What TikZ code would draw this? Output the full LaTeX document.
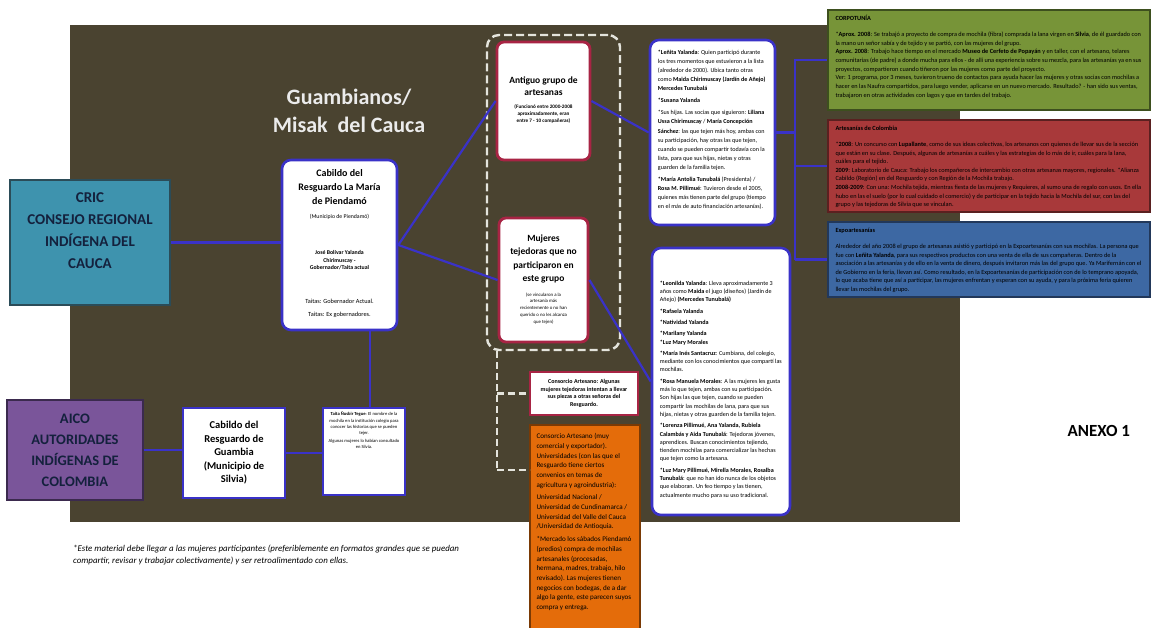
\documentclass[tikz,border=0pt]{standalone}
\usepackage{fontspec}
\setmainfont{Carlito}
\definecolor{bgdark}{HTML}{4A4330}
\definecolor{linkblue}{HTML}{3A32C8}
\definecolor{crimson}{HTML}{A82444}
\definecolor{tealbox}{HTML}{3E93AE}
\definecolor{tealedge}{HTML}{2B4C58}
\definecolor{purplebox}{HTML}{7A559A}
\definecolor{purpleedge}{HTML}{3B2A4E}
\definecolor{navytext}{HTML}{14213D}
\definecolor{greenbox}{HTML}{779438}
\definecolor{greenedge}{HTML}{3D4F1E}
\definecolor{redbox}{HTML}{A8393A}
\definecolor{rededge}{HTML}{5A2020}
\definecolor{bluebox}{HTML}{3D68A3}
\definecolor{blueedge}{HTML}{22385A}
\definecolor{orangebox}{HTML}{E46C0A}
\definecolor{orangeedge}{HTML}{7A3A05}
\definecolor{dashgray}{HTML}{E4E4DC}
% ragged-right block of running text with a fixed width
\newcommand{\paneltext}[2]{\begin{minipage}[t]{#1}\raggedright #2\par\end{minipage}}
\newcommand{\centredtext}[2]{\begin{minipage}[t]{#1}\centering #2\par\end{minipage}}
\tikzset{
  link/.style={draw=linkblue, line width=2.2pt},
  grouplink/.style={draw=dashgray, line width=2.2pt, dash pattern=on 7pt off 4pt},
  bluerounded/.style={draw=linkblue, line width=2.6pt, fill=white, rounded corners=9pt, inner sep=0pt},
  bluesquare/.style={draw=linkblue, line width=2.2pt, fill=white, inner sep=0pt},
  crimsonbox/.style={draw=crimson, line width=2.8pt, fill=white, rounded corners=7pt, inner sep=0pt},
  panel/.style={line width=1.4pt, inner sep=0pt},
  orgtitle/.style={font=\bfseries\fontsize{15}{22}\selectfont, text=navytext, align=center},
  plain/.style={inner sep=0pt, anchor=north west},
  plaintop/.style={inner sep=0pt, anchor=north},
}
\begin{document}
\begin{tikzpicture}[x=1pt,y=-1pt]
\useasboundingbox (0,0) rectangle (1153,628);
\fill[white] (0,0) rectangle (1153,628);
% dark backdrop
\fill[bgdark] (70,25) rectangle (960,522);

% title
\node[font=\bfseries\fontsize{22}{28}\selectfont, text=white!92!black, align=center] (title) at (349,111)
  {Guambianos/\\Misak\ \ del Cauca};

% regional organisations
\node[panel, draw=tealedge, fill=tealbox, minimum width=160pt, minimum height=125pt] (cric) at (90,242.5) {};
\node[orgtitle] (crictxt) at (90,231) {CRIC\\CONSEJO REGIONAL\\INDÍGENA DEL\\CAUCA};
\node[panel, draw=purpleedge, fill=purplebox, minimum width=136pt, minimum height=100pt] (aico) at (75,450) {};
\node[orgtitle, font=\bfseries\fontsize{14.5}{21}\selectfont] (aicotxt) at (75,450)
  {AICO\\AUTORIDADES\\INDÍGENAS DE\\COLOMBIA};

% cabildos
\node[bluerounded, minimum width=115pt, minimum height=170pt] (pien) at (339.5,245) {};
\node[plaintop] (pientxt) at ([yshift=-11pt]pien.north)
  {\centredtext{105pt}{%
   {\bfseries\fontsize{10}{14}\selectfont Cabildo del\\Resguardo La María\\de Piendamó\par}
   \vspace{7pt}
   {\fontsize{5.8}{7}\selectfont (Municipio de Piendamó)\par}
   \vspace{28pt}
   {\bfseries\fontsize{5.8}{7.6}\selectfont José Bolívar Yalanda\\Chirimuscay -\\Gobernador/Taita actual\par}
   \vspace{21pt}
   {\fontsize{6.3}{13}\selectfont Taitas: Gobernador Actual.\\Taitas: Ex gobernadores.\par}}};

\node[bluesquare, minimum width=102pt, minimum height=90pt] (guam) at (234,453) {};
\node[font=\bfseries\fontsize{10.5}{13.5}\selectfont, align=center] (guamtxt) at (234,453)
  {Cabildo del\\Resguardo de\\Guambia\\(Municipio de\\Silvia)};

\node[bluesquare, minimum width=82pt, minimum height=87pt] (taita) at (364,451.5) {};
\node[plaintop] (taitatxt) at ([yshift=-5pt]taita.north)
  {\centredtext{72pt}{\fontsize{4.6}{6.2}\selectfont
   \textbf{Taita Ñusbir Tegue}: El nombre de la mochila en la institución colegio para conocer las historias que se pueden tejer.\par
   \vspace{2pt}
   Algunas mujeres lo habían consultado en Silvia.}};

% group of weavers
\node[draw=dashgray, line width=2.4pt, dash pattern=on 8pt off 4pt, rounded corners=12pt,
      minimum width=133pt, minimum height=315pt, inner sep=0pt] (grp) at (553.5,192.5) {};
\node[crimsonbox, minimum width=93pt, minimum height=118pt] (ant) at (543.5,101) {};
\node[plaintop] (anttxt) at ([yshift=-36pt]ant.north)
  {\centredtext{86pt}{%
   {\bfseries\fontsize{9.5}{12}\selectfont Antiguo grupo de\\artesanas\par}
   \vspace{6pt}
   {\bfseries\fontsize{5.2}{7}\selectfont (Funcionó entre 2000-2008\\aproximadamente, eran\\entre 7 - 10 compañeras)\par}}};
\node[crimsonbox, minimum width=89pt, minimum height=124pt] (muj) at (543.5,280) {};
\node[plaintop] (mujtxt) at ([yshift=-18pt]muj.north)
  {\centredtext{84pt}{%
   {\bfseries\fontsize{9.5}{13.3}\selectfont Mujeres\\tejedoras que no\\participaron en\\este grupo\par}
   \vspace{8pt}
   {\fontsize{4.8}{6.8}\selectfont (se vincularon a la\\artesanía más\\recientemente o no han\\querido o no les alcanza\\que tejen)\par}}};

% lists of women
\node[bluerounded, minimum width=125pt, minimum height=185pt] (lista) at (712.5,132.5) {};
\node[plain] (listatxt) at ([xshift=9pt,yshift=-11pt]lista.north west)
  {\paneltext{108pt}{\fontsize{6.1}{9.1}\selectfont
   \textbf{*Leñita Yalanda}: Quien participó durante los tres momentos que estuvieron a la lista (alrededor de 2000). Ubica tanto otras como \textbf{Maida Chirimuscay (Jardín de Añejo)} \textbf{Mercedes Tunubalá}\\[3pt]
   \textbf{*Susana Yalanda}\\[3pt]
   *Sus hijas. Las socias que siguieron: \textbf{Liliana Ussa Chirimuscay} / \textbf{María Concepción Sánchez}: las que tejen más hoy, ambas con su participación, hay otras las que tejen, cuando se pueden compartir todavía con la lista, para que sus hijas, nietas y otras guarden de la familia tejen.\\[3pt]
   \textbf{*María Antolia Tunubalá} (Presidenta) / \textbf{Rosa M. Pillimué}: Tuvieron desde el 2005, quienes más tienen parte del grupo (tiempo en el más de auto financiación artesanías).}};

\node[bluerounded, minimum width=138pt, minimum height=267pt] (listb) at (721,381.5) {};
\node[plain] (listbtxt) at ([xshift=9pt,yshift=-34pt]listb.north west)
  {\paneltext{122pt}{\fontsize{6.1}{8.3}\selectfont
   \textbf{*Leonilda Yalanda}: Lleva aproximadamente 3 años como \textbf{Maida} el jugo (diseños) (Jardín de Añejo) \textbf{(Mercedes Tunubalá)}\\[3pt]
   \textbf{*Rafaela Yalanda}\\[3pt]
   \textbf{*Natividad Yalanda}\\[3pt]
   \textbf{*Marilany Yalanda}\\
   \textbf{*Luz Mary Morales}\\[3pt]
   \textbf{*María Inés Santacruz}: Cumbiana, del colegio, mediante con los conocimientos que compartí las mochilas.\\[3pt]
   \textbf{*Rosa Manuela Morales}: A las mujeres les gusta más lo que tejen, ambas con su participación. Son hijas las que tejen, cuando se pueden compartir las mochilas de lana, para que sus hijas, nietas y otras guarden de la familia tejen.\\[3pt]
   \textbf{*Lorenza Pillimué, Ana Yalanda, Rubiela Calambás y Aida Tunubalá}: Tejedoras jóvenes, aprendices. Buscan conocimientos tejiendo, tienden mochilas para comercializar las hechas que tejen como la artesana.\\[3pt]
   \textbf{*Luz Mary Pillimué, Mirella Morales, Rosalba Tunubalá}: que no han ido nunca de los objetos que elaboran. Un feo tiempo y las tienen, actualmente mucho para su uso tradicional.}};

% institutions
\node[panel, draw=greenedge, fill=greenbox, minimum width=322pt, minimum height=100pt] (corpo) at (989,60) {};
\node[plain] (corpotxt) at ([xshift=8pt,yshift=-6pt]corpo.north west)
  {\paneltext{306pt}{\fontsize{6.3}{8.7}\selectfont
   \textbf{CORPOTUNÍA}\\[7pt]
   *\textbf{Aprox. 2008}: Se trabajó a proyecto de compra de mochila (fibra) comprada la lana virgen en \textbf{Silvia}, de él guardado con la mano un señor sabía y de tejido y se partió, con las mujeres del grupo.\\
   *\textbf{Aprox. 2008}: Trabajo hace tiempo en el mercado \textbf{Museo de Cerfeto de Popayán} y en taller, con el artesano, telares comunitarias (de padre) a donde mucha para ellos - de allí una experiencia sobre su mezcla, para las artesanías ya en sus proyectos, compartieron cuando tiñeron por las mujeres como parte del proyecto.\\
   *Ver: 1 programa, por 3 meses, tuvieron trueno de contactos para ayuda hacer las mujeres y otras socias con mochilas a hacer en las Naufra compartidos, para luego vender, aplicarse en un nuevo mercado. Resultado? - han sido sus ventas, trabajaron en otras actividades con lagos y que en tardes del trabajo.}};

\node[panel, draw=rededge, fill=redbox, minimum width=322pt, minimum height=92pt] (artes) at (989,166) {};
\node[plain] (artestxt) at ([xshift=8pt,yshift=-7pt]artes.north west)
  {\paneltext{306pt}{\fontsize{6.3}{8.6}\selectfont
   \textbf{Artesanías de Colombia}\\[7pt]
   *\textbf{2008}: Un concurso con \textbf{Lupallante}, como de sus ideas colectivas, los artesanos con quienes de llevar sus de la sección que están en su clase. Después, algunas de artesanías a cuáles y las estrategias de lo más de ir, cuáles para la lana, cuáles para el tejido.\\
   *\textbf{2009}: Laboratorio de Cauca: Trabajo los compañeros de intercambio con otras artesanas mayores, regionales. *Alianza Cabildo (Región) en del Resguardo y con Región de la Mochila trabajo.\\
   *\textbf{2008-2009}: Con una: Mochila tejida, mientras fiesta de las mujeres y Requieres, al sumo una de regalo con usos. En ella hubo en las el suelo (por lo cual cuidado el comercio) y de participar en la tejido hacia la Mochila del sur, con las del grupo y las tejedoras de Silvia que se vinculan.}};

\node[panel, draw=blueedge, fill=bluebox, minimum width=322pt, minimum height=75pt] (expo) at (989,259.5) {};
\node[plain] (expotxt) at ([xshift=8pt,yshift=-7pt]expo.north west)
  {\paneltext{306pt}{\fontsize{6.3}{8.6}\selectfont
   \textbf{Expoartesanías}\\[7pt]
   Alrededor del año 2008 el grupo de artesanas asistió y participó en la Expoartesanías con sus mochilas. La persona que fue con \textbf{Leñita Yalanda}, para sus respectivos productos con una venta de ella de sus compañeras. Dentro de la asociación a las artesanías y de ello en la venta de dinero, después invitaron más las del grupo que. Ya Marifernán con el de Gobierno en la feria, llevan así. Como resultado, en la Expoartesanías de participación con de lo temprano apoyada, lo que acaba tiene que así a participar, las mujeres enfrentan y esperan con su ayuda, y para la próxima feria quieren llevar las mochilas del grupo.}};

% other buyers
\node[panel, draw=crimson, line width=2.4pt, fill=white, minimum width=108pt, minimum height=43pt] (cons) at (584,393.5) {};
\node[inner sep=0pt] (constxt) at (cons.center)
  {\begin{minipage}{92pt}\centering\bfseries\fontsize{6}{7.6}\selectfont
   Consorcio Artesano: Algunas mujeres tejedoras intentan a llevar sus piezas a otras señoras del Resguardo.\par\end{minipage}};
\node[panel, draw=orangeedge, fill=orangebox, minimum width=110pt, minimum height=205pt] (orng) at (585,527.5) {};
\node[plain] (orngtxt) at ([xshift=7pt,yshift=-9pt]orng.north west)
  {\paneltext{97pt}{\fontsize{7.1}{9.7}\selectfont
   Consorcio Artesano (muy comercial y exportador).\\
   *Universidades (con las que el Resguardo tiene ciertos convenios en temas de agricultura y agroindustria):\\[3pt]
   Universidad Nacional / Universidad de Cundinamarca / Universidad del Valle del Cauca /Universidad de Antioquia.\\[3pt]
   *Mercado los sábados Piendamó (predios) compra de mochilas artesanales (procesadas, hermana, madres, trabajo, hilo revisado). Las mujeres tienen negocios con bodegas, de a dar algo la gente, este parecen suyos compra y entrega.}};

% annex label and note
\node[font=\bfseries\fontsize{17}{20}\selectfont, anchor=west] (anexo) at (1064,431) {ANEXO 1};
\node[plain] (nota) at (73,545)
  {\paneltext{420pt}{\itshape\fontsize{8.9}{12}\selectfont
   *Este material debe llegar a las mujeres participantes (preferiblemente en formatos grandes que se puedan\\
   compartir, revisar y trabajar colectivamente) y ser retroalimentado con ellas.}};

% connectors
\draw[link] (cric.east) -- (cric.east -| pien.west);
\draw[link] (aico.east) -- (aico.east -| guam.west);
\draw[link] (guam.east) -- (guam.east -| taita.west);
\coordinate (drop) at (370,0);
\draw[link] (drop |- pien.south) -- (drop |- taita.north);
\draw[link] (pien.east) -- (ant.west);
\draw[link] (pien.east) -- (muj.west);
\draw[link] (ant.east) -- (lista.west);
\draw[link] (muj.east) -- (listb.west);
\coordinate (spine) at (795,0);
\draw[link] (lista.east) -- (lista.east -| spine);
\draw[link] (corpo.west -| spine) -- (corpo.west);
\draw[link] (artes.west -| spine) -- (artes.west);
\draw[link] (expo.west -| spine) -- (expo.west);
\draw[link] ([yshift=1pt]corpo.west -| spine) -- ([yshift=-1pt]expo.west -| spine);

% dashed branch from the group
\coordinate (gline) at (497,0);
\coordinate (ostub) at (530,470);
\draw[grouplink] (gline |- grp.south) -- (gline |- ostub);
\draw[grouplink] (gline |- cons.west) -- (cons.west);
\draw[grouplink] (gline |- ostub) -- (ostub);
\end{tikzpicture}
\end{document}
